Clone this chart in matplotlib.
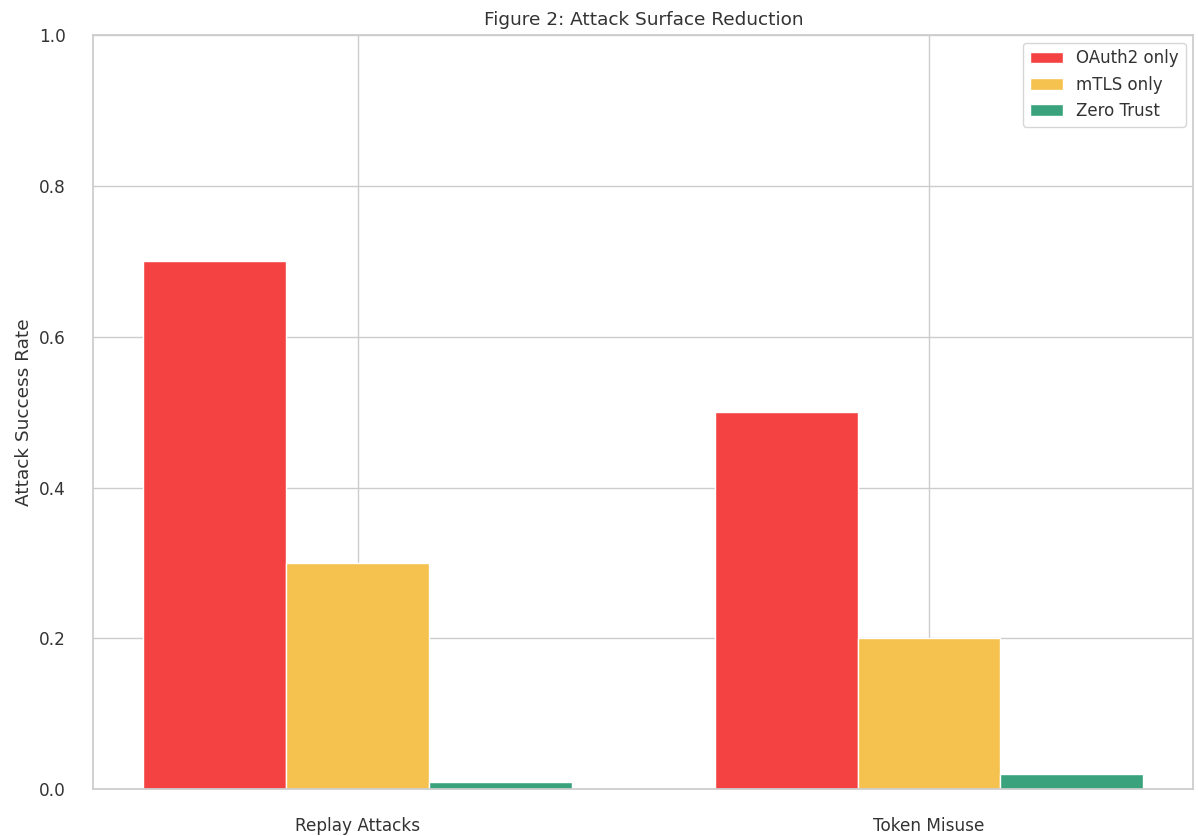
import numpy as np
import matplotlib
matplotlib.use("Agg")
import matplotlib.pyplot as plt
import seaborn as sns

attacks = ["Replay Attacks", "Token Misuse"]
oauth2_only = [0.70, 0.50]
mtls_only = [0.30, 0.20]
zero_trust = [0.01, 0.02]

series_names = ["OAuth2 only", "mTLS only", "Zero Trust"]
series_colors = ["#f44242", "#f6c24f", "#3aa37d"]

sns.set_theme(style="whitegrid")
plt.rcParams["font.family"] = ["DejaVu Sans"]
plt.rcParams["text.color"] = "#333333"
plt.rcParams["axes.labelcolor"] = "#333333"
plt.rcParams["xtick.color"] = "#333333"
plt.rcParams["ytick.color"] = "#333333"

fig, ax = plt.subplots(figsize=(11.98, 8.36), dpi=100)
x = np.arange(len(attacks))
width = 0.25

for i, (vals, name, color) in enumerate(zip([oauth2_only, mtls_only, zero_trust], series_names, series_colors)):
    ax.bar(x + (i - 1) * width, vals, width, label=name, color=color,
           edgecolor="white", linewidth=1)

ax.set_xticks(x)
ax.set_xticklabels(attacks)
ax.set_ylim(0, 1.0)
ax.tick_params(axis="both", labelsize=12.2)
ax.tick_params(axis="x", pad=14)
ax.tick_params(axis="y", pad=14)
ax.set_ylabel("Attack Success Rate", fontsize=13.3, labelpad=4)
ax.set_title("Figure 2: Attack Surface Reduction", fontsize=13.3, pad=7)
ax.legend(loc="upper right", fontsize=12, borderaxespad=0.45)

fig.subplots_adjust(left=0.078, right=0.996, top=0.958, bottom=0.056)
fig.savefig("out.png", dpi=100)
plt.close(fig)
